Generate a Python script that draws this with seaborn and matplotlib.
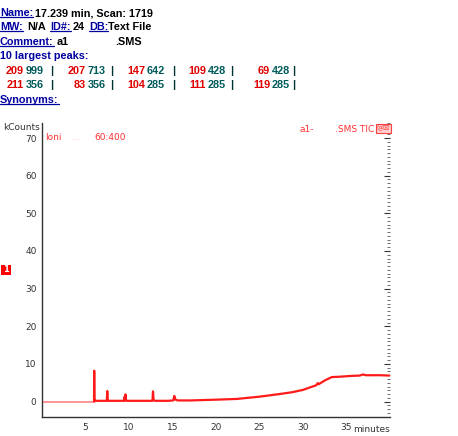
import matplotlib
matplotlib.use("Agg")
import matplotlib.pyplot as plt
import seaborn as sns
import pandas as pd
from matplotlib.lines import Line2D
from matplotlib.patches import Rectangle
from matplotlib.ticker import MultipleLocator

# ---------------- data ----------------
base_time = [0.0, 5.98]
base_kcounts = [0.0, 0.0]

trace_time = [5.98, 6.0, 6.03, 6.1, 7.0, 7.45, 7.5, 7.56, 7.7, 9.0, 9.45, 9.5, 9.54, 9.6, 9.66, 9.8,
              11.0, 12.7, 12.76, 12.82, 13.0, 14.5, 15.1, 15.2, 15.35, 15.6, 17.0, 20.0, 22.4,
              25.0, 27.3, 28.8, 30.0, 31.1, 31.5, 31.7, 31.8, 32.5, 33.3, 34.2, 35.4, 36.5,
              36.9, 37.2, 38.8, 40.0]
trace_kcounts = [0.0, 8.2, 0.3, 0.2, 0.2, 0.2, 2.8, 0.3, 0.2, 0.2, 0.2, 1.3, 0.3, 1.9, 0.3, 0.2,
                 0.2, 0.2, 2.7, 0.4, 0.2, 0.2, 0.3, 1.5, 0.5, 0.3, 0.3, 0.5, 0.7,
                 1.3, 2.0, 2.5, 3.1, 4.0, 4.3, 4.9, 4.6, 5.6, 6.5, 6.6, 6.8, 6.9,
                 7.2, 7.0, 7.0, 6.9]

x_major = [5, 10, 15, 20, 25, 30, 35]
y_major = [0, 10, 20, 30, 40, 50, 60, 70]

peaks_row1 = [("209", "999"), ("207", "713"), ("147", "642"), ("109", "428"), ("69", "428")]
peaks_row2 = [("211", "356"), ("83", "356"), ("104", "285"), ("111", "285"), ("119", "285")]

# ---------------- figure ----------------
W, H = 458, 436
sns.set_style("white")
plt.rcParams["font.family"] = ["DejaVu Sans"]
fig = plt.figure(figsize=(W / 100, H / 100), dpi=100)
ax = fig.add_axes([42 / W, 1 - 417 / H, (390 - 42) / W, (417 - 123) / H])

df = pd.DataFrame({
    "time": base_time + trace_time,
    "kcounts": base_kcounts + trace_kcounts,
    "seg": ["base"] * len(base_time) + ["trace"] * len(trace_time),
})
sns.lineplot(data=df[df.seg == "base"], x="time", y="kcounts", color="#ff8c8c",
             linewidth=1.3, sort=False, estimator=None, ax=ax, legend=False)
sns.lineplot(data=df[df.seg == "trace"], x="time", y="kcounts", color="#ff1a1a",
             linewidth=1.6, sort=False, estimator=None, ax=ax, legend=False)

ax.set_xlim(0, 40)
ax.set_ylim(-4.1, 74)
ax.set_xlabel("")
ax.set_ylabel("")
ax.set_xticks(x_major)
ax.set_xticklabels([str(v) for v in x_major])
ax.set_yticks(y_major)
ax.set_yticklabels([str(v) for v in y_major])
ax.xaxis.set_minor_locator(MultipleLocator(0.5))
ax.yaxis.set_minor_locator(MultipleLocator(1))

for s in ["top", "right"]:
    ax.spines[s].set_visible(False)
for s in ["left", "bottom"]:
    ax.spines[s].set_color("#333333")
    ax.spines[s].set_linewidth(1.0)

ax.tick_params(axis="both", which="major", labelsize=6.5, labelcolor="#333333",
               color="#333333", width=0.8, length=3, direction="out", pad=1)
ax.tick_params(axis="both", which="minor", color="#555555", width=0.6, length=2, direction="out")
ax.tick_params(axis="y", which="both", right=True)
ax.tick_params(axis="y", which="major", right=True, labelright=False)
# right-side ticks point inward
for t in ax.yaxis.get_major_ticks() + ax.yaxis.get_minor_ticks():
    t.tick2line.set_marker(matplotlib.markers.TICKLEFT)
    t.tick2line.set_color("#888888")
    t.tick2line.set_markersize(2)
for t in ax.yaxis.get_major_ticks():
    t.tick2line.set_markersize(4)

# ---------------- in-axes texts ----------------
def ftxt(x, y, s, **kw):
    fig.text(x / W, 1 - y / H, s, **kw)

ftxt(40, 128, "kCounts", fontsize=6.5, color="#333333", ha="right", va="center")
ftxt(390, 429, "minutes", fontsize=6.5, color="#333333", ha="right", va="center")
ftxt(45, 137, "Ioni", fontsize=6.5, color="#ff3030", ha="left", va="center")
ftxt(72, 137, "...", fontsize=6.5, color="#ffb0b0", ha="left", va="center")
ftxt(94, 137, "60:400", fontsize=6.5, color="#ff3030", ha="left", va="center")
ftxt(300, 129, "a1-", fontsize=6.5, color="#ff3030", ha="left", va="center")
ftxt(335, 129, ".SMS TIC", fontsize=6.5, color="#ff3030", ha="left", va="center")
fig.add_artist(Rectangle((376 / W, 1 - 133 / H), 15 / W, 9 / H, transform=fig.transFigure,
                         facecolor="#ffd0d0", edgecolor="#ff4040", linewidth=0.8))
ftxt(383.5, 128.5, "@\u2612", fontsize=5, color="#ff3030", ha="center", va="center")

# red "1" marker
fig.add_artist(Rectangle((1 / W, 1 - 275 / H), 10 / W, 10 / H, transform=fig.transFigure,
                         facecolor="#ff0000", edgecolor="none"))
ftxt(6, 270, "1", fontsize=6, color="white", ha="center", va="center", fontweight="bold")

# ---------------- header text ----------------
NAVY = "#0000a0"
BLK = "#000000"
RED = "#e00000"
TEAL = "#005a5a"
hfam = ["Liberation Sans", "DejaVu Sans"]
underlined = []

def htxt(x, y, s, color, ul=False, ha="left", size=7.8):
    t = fig.text(x / W, 1 - y / H, s, fontsize=size, color=color, ha=ha, va="center",
                 family=hfam, fontweight="bold")
    if ul:
        underlined.append((t, color))
    return t

htxt(0, 13, "Name:", NAVY, ul=True)
htxt(35, 13, "17.239 min, Scan: 1719", BLK)
htxt(0, 27, "MW:", NAVY, ul=True)
htxt(27, 27, "N/A", BLK)
htxt(50, 27, "ID#:", NAVY, ul=True)
htxt(73, 27, "24", BLK)
htxt(89, 27, "DB:", NAVY, ul=True)
htxt(108, 27, "Text File", BLK)
htxt(0, 42, "Comment:", NAVY, ul=True)
htxt(57, 42, "a1", BLK)
htxt(115, 42, ".SMS", BLK)
htxt(0, 56, "10 largest peaks:", NAVY)

cols_right = [24, 86, 145, 206, 270]
bars = [50, 110, 172, 230, 292]
for y, row in [(71, peaks_row1), (85, peaks_row2)]:
    for (a, b), cx, bx in zip(row, cols_right, bars):
        htxt(cx, y, a, RED, ha="right")
        htxt(cx + 2, y, b, TEAL, ha="left")
        htxt(bx, y, "|", "#003333", ha="left")
htxt(0, 100, "Synonyms:", NAVY, ul=True)

fig.canvas.draw()
r = fig.canvas.get_renderer()
for t, c in underlined:
    bb = t.get_window_extent(r)
    yy = bb.y0 + 1
    fig.add_artist(Line2D([bb.x0 / W, bb.x1 / W], [yy / H, yy / H], transform=fig.transFigure,
                          color=c, linewidth=0.9))

fig.savefig("out.png", dpi=100)
